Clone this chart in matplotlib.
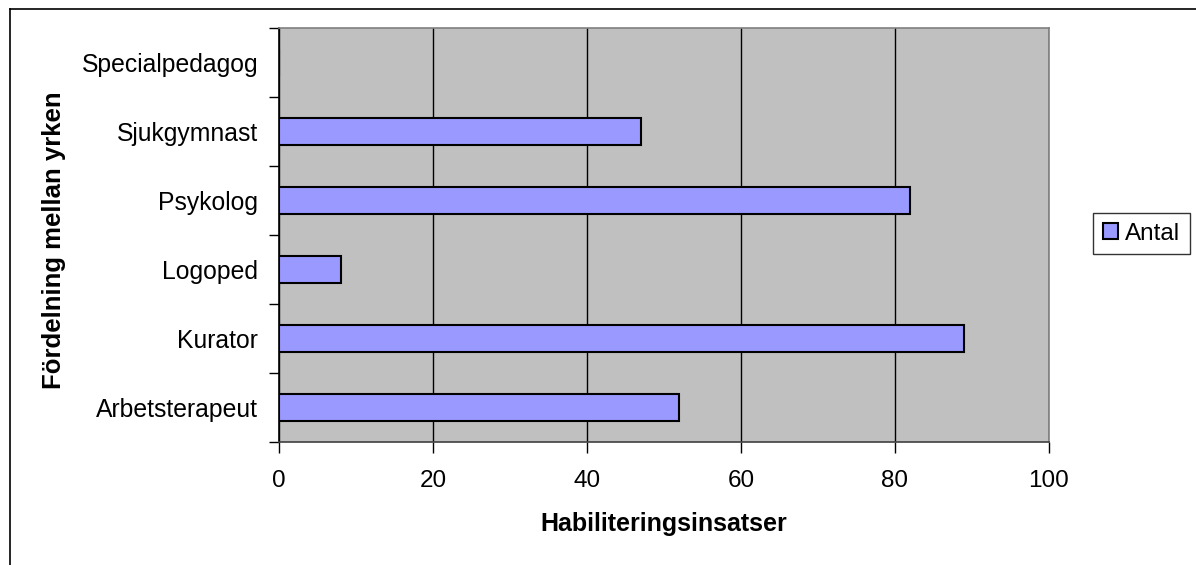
import matplotlib.pyplot as plt
from matplotlib.lines import Line2D

plt.rcParams['font.family'] = ['Liberation Sans', 'DejaVu Sans']

# yrken och antal insatser
yrken = ['Arbetsterapeut', 'Kurator', 'Logoped', 'Psykolog', 'Sjukgymnast', 'Specialpedagog']
antal = [52, 89, 8, 82, 47, 0]
xticks = [0, 20, 40, 60, 80, 100]

fig = plt.figure(figsize=(11.96, 5.65), dpi=100)
ax = fig.add_axes([279 / 1196, 1 - 442 / 565, 770 / 1196, 414 / 565])
ax.set_facecolor('#c0c0c0')

pos = list(range(len(yrken)))
ax.barh(pos, antal, height=0.4, color='#9999ff', edgecolor='black', linewidth=1.5,
        label='Antal', zorder=3)

ax.set_xlim(0, 100)
ax.set_ylim(-0.5, len(yrken) - 0.5)

# rutnät
ax.set_xticks(xticks)
ax.set_xticklabels([str(v) for v in xticks], fontsize=17.5)
ax.grid(axis='x', color='black', linewidth=1, zorder=1)
ax.tick_params(axis='x', direction='out', length=8, width=1, pad=12, colors='black')

# kategorier mitt i fälten, streck på gränserna
ax.set_yticks(pos)
ax.set_yticklabels(yrken, fontsize=17.8)
ax.set_yticks([p - 0.5 for p in pos] + [len(yrken) - 0.5], minor=True)
ax.tick_params(axis='y', which='major', length=0, pad=15)
ax.tick_params(axis='y', which='minor', direction='out', length=7, width=1)

for s in ['top', 'right']:
    ax.spines[s].set_color('#808080')
ax.spines['left'].set_color('black')
ax.spines['bottom'].set_color('#404040')
for s in ax.spines.values():
    s.set_linewidth(1.2)

ax.set_xlabel('Habiliteringsinsatser', fontsize=18, fontweight='bold')
ax.xaxis.set_label_coords(0.5, -0.17)
ax.set_ylabel('Fördelning mellan yrken', fontsize=18.5, fontweight='bold')
ax.yaxis.set_label_coords(-0.276, 0.488)

leg = fig.legend(loc='center', bbox_to_anchor=(1141.5 / 1196, 1 - 233.5 / 565), fontsize=17.5,
                 frameon=True, fancybox=False, handlelength=0.6, handleheight=0.6,
                 handletextpad=0.3, borderpad=0.4, borderaxespad=0)
leg.get_frame().set_edgecolor('black')
leg.get_frame().set_linewidth(1)

# ram runt diagrammet
fig.add_artist(Line2D([9.5 / 1196, 9.5 / 1196], [0, 1 - 8.5 / 565], color='black', linewidth=1.2))
fig.add_artist(Line2D([9.5 / 1196, 1], [1 - 8.5 / 565, 1 - 8.5 / 565], color='black', linewidth=1.2))

plt.savefig('out.png', dpi=100)
